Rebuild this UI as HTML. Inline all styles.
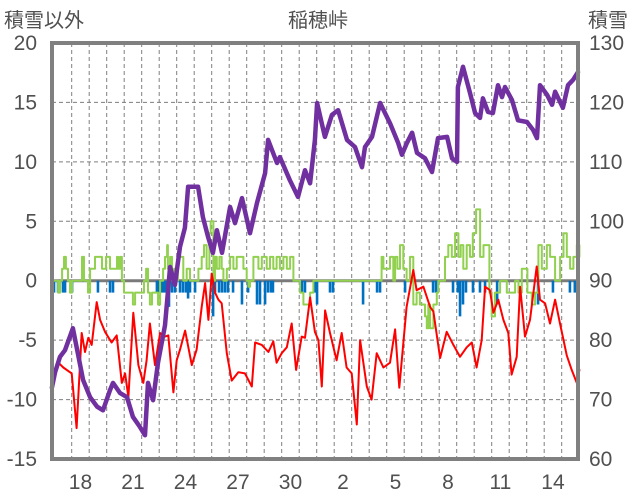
<!DOCTYPE html>
<html><head><meta charset="utf-8">
<style>
html,body{margin:0;padding:0;background:#fff;}
svg{display:block;font-family:"Liberation Sans","Noto Sans CJK JP",sans-serif;}
</style></head>
<body>
<svg id="chart" width="636" height="501" viewBox="0 0 636 501" xmlns="http://www.w3.org/2000/svg">
<text x="318" y="27" text-anchor="middle" font-size="20" fill="#505050" font-family="'Noto Sans CJK JP',sans-serif">稲穂峠</text>
<text x="4" y="27" font-size="20" fill="#505050" font-family="'Noto Sans CJK JP',sans-serif">積雪以外</text>
<text x="588" y="27" font-size="20" fill="#505050" font-family="'Noto Sans CJK JP',sans-serif">積雪</text>
<g id="grid"></g><g id="bars"></g><g id="series"></g><g id="axes"></g>
</svg>
<script>
const leftTicks=[20,15,10,5,0,-5,-10,-15];
const rightTicks=[130,120,110,100,90,80,70,60];
const dayLabels=["18","21","24","27","30","2","5","8","11","14"];
const dayLabelPos=[0,3,6,9,12,15,18,21,24,27];
const snowT=[-1.13,-0.95,-0.67,-0.38,0.07,0.65,1.05,1.45,1.79,2.19,2.36,2.76,3.16,3.5,3.9,4.19,4.36,4.65,4.93,5.33,5.62,5.9,6.19,6.47,6.65,7.22,7.5,7.79,8.07,8.3,8.59,9.05,9.33,9.73,10.19,10.59,11.05,11.22,11.73,11.9,12.47,12.93,13.33,13.62,13.9,14.02,14.47,14.87,15.22,15.73,16.19,16.59,16.76,17.16,17.62,18.19,18.65,18.87,19.16,19.45,19.73,20.19,20.59,20.93,21.45,21.73,22.02,22.07,22.36,22.76,23.05,23.33,23.5,23.79,24.07,24.36,24.59,24.76,25.16,25.5,26.02,26.36,26.59,26.76,27.16,27.45,27.62,28.07,28.36,28.65,28.93];
const snowV=[72.0,74.6,77.2,78.3,82.0,73.3,70.4,68.8,68.2,71.6,72.8,71.1,70.4,67.1,65.4,64.0,72.8,69.9,76.2,82.5,92.3,89.3,95.7,98.9,105.8,105.8,100.7,97.4,94.7,98.5,94.7,102.4,99.7,103.9,98.0,103.1,108.1,113.7,109.8,110.8,106.9,104.1,108.6,106.4,113.7,119.9,114.2,117.9,118.7,113.7,112.5,109.1,112.5,114.2,119.9,116.5,113.2,111.2,113.2,114.9,111.5,110.6,108.3,114.0,114.2,110.6,110.0,122.6,126.0,121.6,118.2,117.4,120.7,118.4,118.2,122.9,120.9,122.6,120.4,117.0,116.7,115.4,114.0,122.9,121.3,119.6,121.8,119.1,122.9,123.8,125.1];
const tempT=[-1.05,-0.76,-0.48,0.0,0.28,0.57,0.76,0.95,1.14,1.43,1.62,1.9,2.28,2.57,2.86,3.05,3.24,3.52,3.81,4.09,4.28,4.47,4.76,5.05,5.33,5.52,5.81,6.0,6.19,6.48,6.86,7.14,7.43,7.62,7.81,8.0,8.19,8.38,8.57,8.86,9.14,9.52,9.9,10.29,10.48,10.86,11.24,11.52,11.71,12.0,12.29,12.57,12.82,13.14,13.33,13.62,13.9,14.1,14.29,14.48,14.76,15.14,15.43,15.71,16.0,16.29,16.48,16.86,17.14,17.43,17.81,18.19,18.48,18.72,19.14,19.52,19.71,20.1,20.48,20.67,21.05,21.43,21.81,22.19,22.57,22.86,23.14,23.43,23.62,23.9,24.1,24.38,24.67,24.95,25.14,25.43,25.62,25.9,26.19,26.57,26.76,27.05,27.33,27.62,27.9,28.29,28.57,28.86,29.01];
const tempV=[-7.8,-6.9,-7.3,-7.8,-12.4,-4.4,-6.0,-4.8,-5.4,-1.8,-3.3,-4.3,-5.2,-4.6,-8.6,-7.8,-9.8,-2.7,-7.1,-8.6,-6.7,-3.6,-7.1,-4.4,-4.7,-4.6,-9.4,-6.7,-5.8,-4.2,-7.1,-5.8,-2.2,-0.2,-3.3,0.6,-1.0,-1.6,-1.9,-6.1,-8.4,-7.7,-7.8,-8.9,-5.2,-5.4,-6.0,-5.1,-6.9,-6.1,-5.6,-3.6,-7.5,-4.7,-4.8,-1.4,-4.3,-5.0,-8.9,-2.5,-4.4,-6.7,-4.4,-7.3,-7.8,-12.1,-5.0,-8.9,-10.0,-6.1,-7.3,-6.9,-4.1,-9.0,-2.2,0.9,-0.8,-0.5,-2.2,-2.6,-6.5,-4.3,-5.4,-6.4,-5.6,-5.2,-7.3,-5.0,-0.5,-0.8,-2.7,-1.6,-3.3,-4.4,-7.9,-6.4,-0.5,-4.7,-3.3,1.2,-1.6,-1.9,-3.6,-1.6,-3.6,-6.3,-7.5,-8.6,-7.5];
const chgT=[-1.13,-0.84,-0.78,-0.67,-0.55,-0.44,-0.33,-0.21,-0.1,0.02,0.47,0.59,0.7,0.93,1.05,1.22,1.33,1.62,1.73,1.85,1.96,2.19,2.53,2.59,2.65,2.76,2.87,2.99,3.33,3.5,3.62,4.02,4.13,4.25,4.36,4.47,4.59,4.82,4.93,5.05,5.22,5.33,5.45,5.5,5.62,5.73,5.85,5.96,6.07,6.19,6.38,6.57,6.76,7.05,7.24,7.43,7.56,7.71,7.87,7.94,8.1,8.19,8.29,8.44,8.57,8.67,8.86,9.05,9.24,9.43,9.71,9.81,10.0,10.1,10.19,10.38,10.67,10.86,11.14,11.33,11.52,11.71,11.9,12.1,12.29,12.48,12.67,12.95,13.05,13.24,13.43,13.62,13.81,17.62,17.71,17.81,18.0,18.19,18.38,18.48,18.61,18.76,18.95,19.14,19.33,19.52,19.71,19.9,20.19,20.29,20.38,20.48,20.67,20.86,20.95,21.14,21.33,21.52,21.72,21.91,22.1,22.23,22.38,22.57,22.76,22.92,23.11,23.34,23.43,23.53,23.87,24.0,24.19,24.38,24.48,24.86,25.05,25.34,25.53,25.72,26.04,26.29,26.48,26.67,26.86,27.15,27.34,27.62,27.91,28.1,28.29,28.48,28.67,28.86,29.01];
const chgV=[0,0,-1,0,1,2,1,0,-1,0,0,2,0,-1,1,1,2,2,1,1,2,1,1,2,1,2,0,-1,-1,-2,-1,-1,0,1,-1,-2,-1,-1,-2,0,1,2,3,1,2,0,1,0,2,2,0,1,0,0,1,2,3,1,4,5,0,2,1,2,1,0,1,2,1,2,2,1,0,-0.5,0,2,1,2,1,2,1,2,1,2,1,2,0,0,-1,-2,-2,-1,0,0,2,1,1,2,0,2,1,3,1,0,2,-2,-1,-2,-3,-4,-2,-4,-2,-1,0,0,2,3,2,4,2,3,1,3,2,4,6,2,2,3,-1,-3,-1,-1,0,-1,-1,0,-1,1,-1,-2,-1,3,1,3,2,0,2,4,2,1,2,3,2,1];
const precT=[-1.01,-0.78,-0.5,-0.38,0.02,1.5,2.19,2.36,4.87,4.99,5.1,5.22,5.33,5.45,5.56,5.73,5.9,6.19,6.36,6.53,6.65,6.76,7.05,8.08,8.19,8.42,8.59,8.76,8.93,9.22,9.73,10.08,10.59,10.76,11.05,11.22,11.39,11.5,13.16,13.33,13.9,14.02,14.76,14.93,16.65,17.45,17.62,19.05,20.65,20.82,21.79,22.07,22.19,22.36,22.53,22.93,23.33,23.62,24.31,26.65,27.5,28.47,28.75];
const precV=[-1,-1,-1,-1,-1,-1,-1,-1,-1,-1,-1,-1,-1,-1,-2.2,-1,-1,-1,-1,-1,-1.5,-1,-1,-3,-1,-1,-1,-1,-1,-1,-2,-1,-2,-2,-2,-1,-1,-1,-1,-1,-1,-2,-1,-1,-2,-1,-1,-1,-1,-1,-1,-1,-3,-2,-1,-1,-1,-1,-2,-2,-1,-1,-1];

const X0=52,X1=578,Y0=43,Y1=459;
const xOf=t=>71.7+t*17.5;
const yL=v=>Y0+(20-v)*(Y1-Y0)/35;
const yR=v=>Y0+(130-v)*(Y1-Y0)/70;
const NS="http://www.w3.org/2000/svg";
function mk(tag,attrs,parent){const e=document.createElementNS(NS,tag);for(const k in attrs)e.setAttribute(k,attrs[k]);document.getElementById(parent).appendChild(e);return e;}

leftTicks.forEach((v,i)=>{
  if(v===0||v===20||v===-15)return;
  const l=mk('line',{x1:X0,x2:X1,y1:yL(v),y2:yL(v),stroke:'#7f7f7f','stroke-width':1,'stroke-dasharray':'4,3'},'grid');
  
  
});
for(let d=0;d<=28;d++){
  const l=mk('line',{x1:xOf(d),x2:xOf(d),y1:Y0,y2:Y1,stroke:'#7f7f7f','stroke-width':1,'stroke-dasharray':'4,3'},'grid');
  
  
}
precT.forEach((t,i)=>{
  const y0=yL(0),y1=yL(precV[i]);
  const b=mk('rect',{x:xOf(t)-1.3,y:Math.min(y0,y1),width:2.6,height:Math.abs(y1-y0),fill:'#0070c0'},'bars');
  
  
});
const z=mk('line',{x1:X0,x2:X1,y1:yL(0),y2:yL(0),stroke:'#7a7a7a','stroke-width':3},'grid');



function poly(ts,vs,yf,color,w,name,step){
  const pts=[];
  ts.forEach((t,i)=>{
    if(step&&i>0)pts.push(xOf(t).toFixed(1)+','+yf(vs[i-1]).toFixed(1));
    pts.push(xOf(t).toFixed(1)+','+yf(vs[i]).toFixed(1));
  });
  const p=mk('polyline',{points:pts.join(' '),fill:'none',stroke:color,'stroke-width':w,'stroke-linejoin':'round','stroke-linecap':'round'},'series');
  
  
}
poly(chgT,chgV,yL,'#92d050',2,'snow-change-line',true);
poly(tempT,tempV,yL,'#ff0000',2,'temperature-line',false);
poly(snowT,snowV,yR,'#7030a0',4.5,'snow-depth-line',false);

const f=mk('rect',{x:X0,y:Y0,width:X1-X0,height:Y1-Y0,fill:'none',stroke:'#808080','stroke-width':4},'axes');


leftTicks.forEach(v=>{
  const t=mk('text',{x:37,y:yL(v)+7,'text-anchor':'end','font-size':21,fill:'#505050'},'axes');
  t.textContent=v;
  
  
});
rightTicks.forEach(v=>{
  const t=mk('text',{x:589,y:yR(v)+7,'font-size':21,fill:'#505050'},'axes');
  t.textContent=v;
  
  
});
dayLabels.forEach((s,i)=>{
  const t=mk('text',{x:xOf(dayLabelPos[i]+0.5),y:489,'text-anchor':'middle','font-size':21,fill:'#505050'},'axes');
  t.textContent=s;
  
  
});
</script>
</body></html>
